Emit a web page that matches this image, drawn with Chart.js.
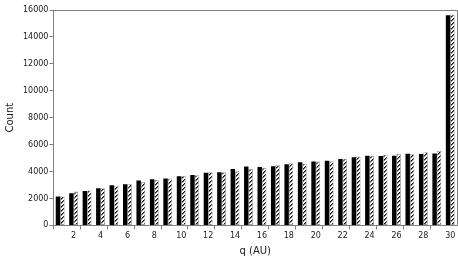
<!DOCTYPE html>
<html>
<head>
<meta charset="utf-8">
<script src="https://cdn.jsdelivr.net/npm/chart.js@4/dist/chart.umd.min.js"></script>
<style>
  html, body { margin: 0; padding: 0; background: #fff; }
  #wrap { width: 458px; height: 258px; }
</style>
</head>
<body>
<div id="wrap"><canvas id="chart" width="458" height="258"></canvas></div>
<script>
'use strict'

// q values in AU, one bin per unit
const qBins = [1, 2, 3, 4, 5, 6, 7, 8, 9, 10, 11, 12, 13, 14, 15,
  16, 17, 18, 19, 20, 21, 22, 23, 24, 25, 26, 27, 28, 29, 30];

// solid black bars
const solidCounts = [2150, 2390, 2560, 2760, 2980, 3060, 3330, 3430, 3480, 3650,
  3750, 3920, 3950, 4190, 4370, 4340, 4390, 4540, 4690, 4740,
  4810, 4930, 5060, 5180, 5160, 5180, 5330, 5300, 5350, 15610];

// hatched bars
const hatchCounts = [2150, 2510, 2600, 2760, 2940, 3060, 3230, 3380, 3480, 3670,
  3720, 3950, 3950, 4020, 4190, 4270, 4460, 4610, 4590, 4740,
  4760, 4960, 5110, 5180, 5250, 5300, 5280, 5430, 5530, 15660];

const yTicks = [0, 2000, 4000, 6000, 8000, 10000, 12000, 14000, 16000];

const axisGrey = '#7f7f7f';
const font = { family: 'DejaVu Sans', size: 8 };

// diagonal "/" hatch, drawn pixel by pixel so it stays crisp
function makeHatch() {
  const c = document.createElement('canvas');
  c.width = 4; c.height = 4;
  const g = c.getContext('2d');
  g.fillStyle = '#fff';
  g.fillRect(0, 0, 4, 4);
  g.fillStyle = '#000';
  for (let i = 0; i < 4; i++) {
    g.fillRect(i, 3 - i, 1, 1);
  }
  g.fillStyle = '#777';
  for (let i = 0; i < 4; i++) {
    g.fillRect(i, (4 - i) % 4, 1, 1);
  }
  return g.createPattern(c, 'repeat');
}

// box round the plot area
const frame = {
  id: 'frame',
  afterDraw(chart) {
    const a = chart.chartArea;
    const g = chart.ctx;
    g.save();
    g.strokeStyle = axisGrey;
    g.lineWidth = 1;
    g.strokeRect(Math.round(a.left) + 0.5, Math.round(a.top) + 0.5,
      Math.round(a.right - a.left), Math.round(a.bottom - a.top));
    g.restore();
  }
};

const ctx = document.getElementById('chart');
new Chart(ctx, {
  type: 'bar',
  data: {
    labels: qBins,
    datasets: [{
      data: solidCounts,
      backgroundColor: '#000',
      borderColor: '#000',
      borderWidth: 0,
      categoryPercentage: 0.66,
      barPercentage: 1
    }, {
      data: hatchCounts,
      backgroundColor: makeHatch(),
      borderColor: '#999',
      borderWidth: 0.8,
      borderSkipped: false,
      categoryPercentage: 0.66,
      barPercentage: 1
    }]
  },
  options: {
    responsive: false,
    animation: false,
    layout: { padding: { top: 10, right: 1, left: 4, bottom: 1 } },
    scales: {
      x: {
        offset: true,
        grid: {
          offset: true,
          drawOnChartArea: false,
          tickLength: 4,
          color: (c) => (c.index % 2 === 0 ? axisGrey : 'rgba(0,0,0,0)')
        },
        border: { display: true, color: axisGrey },
        ticks: {
          autoSkip: false,
          maxRotation: 0,
          color: '#222',
          font: font,
          padding: 2,
          callback: function (v, i) {
            return qBins[i] % 2 === 0 ? String(qBins[i]) : '';
          }
        },
        title: { display: true, text: 'q (AU)', color: '#222', font: { family: 'DejaVu Sans', size: 10 }, padding: { top: 2, bottom: 0 } }
      },
      y: {
        min: 0,
        max: 16000,
        afterBuildTicks: (axis) => { axis.ticks = yTicks.map(v => ({ value: v })); },
        grid: { drawOnChartArea: false, tickLength: 4, color: axisGrey },
        border: { display: true, color: axisGrey },
        ticks: { color: '#222', font: font, padding: 1, callback: (v) => String(v) },
        title: { display: true, text: 'Count', color: '#222', font: { family: 'DejaVu Sans', size: 10 }, padding: { top: 0, bottom: 6 } }
      }
    },
    plugins: {
      legend: { display: false },
      tooltip: { enabled: false }
    }
  },
  plugins: [frame]
});
</script>
</body>
</html>
